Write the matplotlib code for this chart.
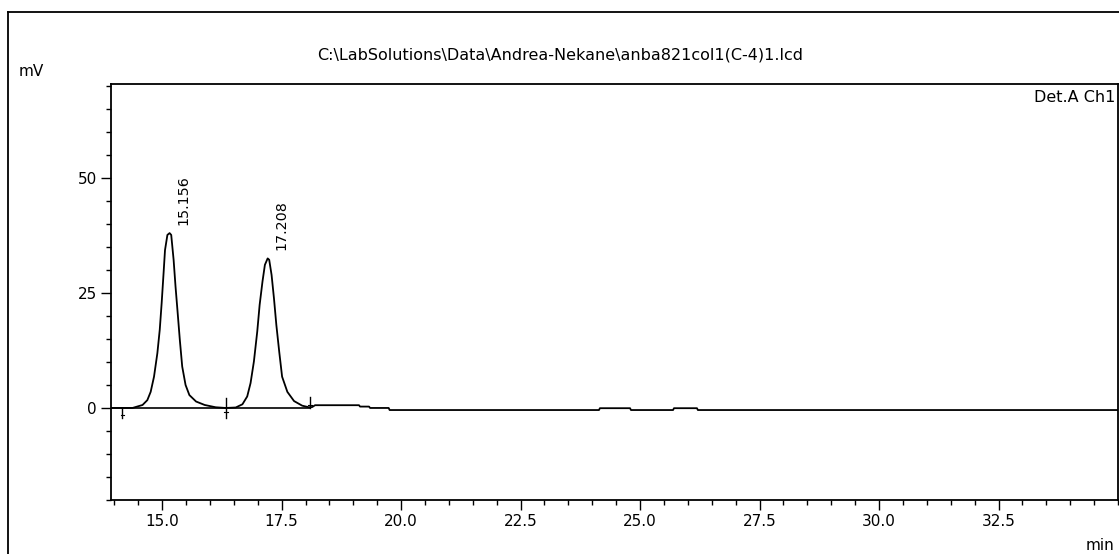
import matplotlib
matplotlib.use("Agg")
import matplotlib.pyplot as plt
from matplotlib.lines import Line2D
from matplotlib.ticker import MultipleLocator, FormatStrFormatter

# ---- data ----
time_min = [13.93, 14.38, 14.59, 14.69, 14.76, 14.83, 14.90, 14.95, 14.99, 15.03,
            15.06, 15.11, 15.156, 15.19, 15.24, 15.28, 15.32, 15.37, 15.42, 15.49,
            15.57, 15.71, 15.89, 16.12, 16.33, 16.54, 16.68, 16.78, 16.85, 16.92,
            16.99, 17.04, 17.10, 17.15, 17.208, 17.24, 17.29, 17.34, 17.39, 17.45,
            17.51, 17.62, 17.76, 17.93, 18.07, 18.14, 18.20, 19.12, 19.14, 19.33,
            19.35, 19.74, 19.76, 24.14, 24.16, 24.79, 24.81, 25.69, 25.71, 26.19,
            26.21, 35.0]
signal_mv = [0.0, 0.0, 0.65, 1.7, 3.5, 6.8, 11.9, 17.0, 22.8, 29.3,
             34.3, 37.6, 38.0, 37.6, 32.2, 26.4, 21.3, 14.8, 9.0, 5.0,
             2.8, 1.4, 0.65, 0.15, 0.0, 0.1, 0.8, 2.5, 5.4, 10.1,
             16.6, 22.4, 27.5, 31.1, 32.5, 32.2, 28.9, 23.8, 18.0, 12.2,
             6.8, 3.5, 1.5, 0.5, 0.15, 0.2, 0.6, 0.6, 0.3, 0.3,
             0.0, 0.0, -0.45, -0.45, -0.05, -0.05, -0.45, -0.45, -0.05, -0.05,
             -0.45, -0.45]

peak_times = [15.156, 17.208]
peak_heights = [38.0, 32.5]
peak_labels = ["15.156", "17.208"]

baseline_marks = [14.17, 16.33, 18.09]
mark_low = [-2.2, -2.2, 0.0]
mark_high = [0.0, 2.2, 2.4]

x_ticks = [15.0, 17.5, 20.0, 22.5, 25.0, 27.5, 30.0, 32.5]
y_ticks = [0, 25, 50]

title_text = r"C:\LabSolutions\Data\Andrea-Nekane\anba821col1(C-4)1.lcd"

# ---- figure ----
W, H = 1119, 554
fig = plt.figure(figsize=(W / 100, H / 100), dpi=100)
plt.rcParams['font.family'] = ['DejaVu Sans']

def fx(px):
    return px / W

def fy(py):
    return 1 - py / H

ax = fig.add_axes([fx(111), fy(500), fx(1118) - fx(111), fy(84) - fy(500)])

ax.plot(time_min, signal_mv, color='black', lw=1.3)
# integration baselines
ax.plot([baseline_marks[0], baseline_marks[1]], [0, 0], color='black', lw=1.2)
ax.plot([baseline_marks[1], baseline_marks[2]], [0, 0], color='black', lw=1.2)
ax.plot([13.93, baseline_marks[0]], [0, 0], color='black', lw=1.2)
for t, lo, hi in zip(baseline_marks, mark_low, mark_high):
    ax.plot([t, t], [lo, hi], color='black', lw=1.0)
    ax.plot([t - 0.04, t + 0.04], [lo + (hi - lo) * 0.3] * 2, color='black', lw=0.8)

for t, h, lab in zip(peak_times, peak_heights, peak_labels):
    ax.annotate(lab, xy=(t, h), xytext=(14, 8), textcoords='offset pixels',
                rotation=90, ha='center', va='bottom', fontsize=10.3)

ax.set_xlim(13.93, 35.0)
ax.set_ylim(-20, 70.4)
ax.set_xticks(x_ticks)
ax.set_yticks(y_ticks)
ax.xaxis.set_major_formatter(FormatStrFormatter('%.1f'))
ax.xaxis.set_minor_locator(MultipleLocator(0.5))
ax.yaxis.set_minor_locator(MultipleLocator(5))
ax.tick_params(which='major', direction='out', length=7, width=1.0,
               labelsize=11, pad=3, colors='black')
ax.tick_params(which='minor', direction='out', length=3.5, width=1.0)
for s in ax.spines.values():
    s.set_linewidth(1.3)

ax.text(0.997, 0.985, "Det.A Ch1", transform=ax.transAxes, ha='right', va='top',
        fontsize=11.5)

fig.text(fx(560), fy(55), title_text, ha='center', va='center', fontsize=11.5)
fig.text(fx(19), fy(72), "mV", ha='left', va='center', fontsize=11)
fig.text(fx(1114), fy(545), "min", ha='right', va='center', fontsize=11)

# outer frame
fig.add_artist(Line2D([fx(8), 1.0], [fy(12), fy(12)], color='black', lw=1.3,
                      transform=fig.transFigure))
fig.add_artist(Line2D([fx(8), fx(8)], [fy(12), 0.0], color='black', lw=1.3,
                      transform=fig.transFigure))

fig.savefig("out.png", dpi=100)
